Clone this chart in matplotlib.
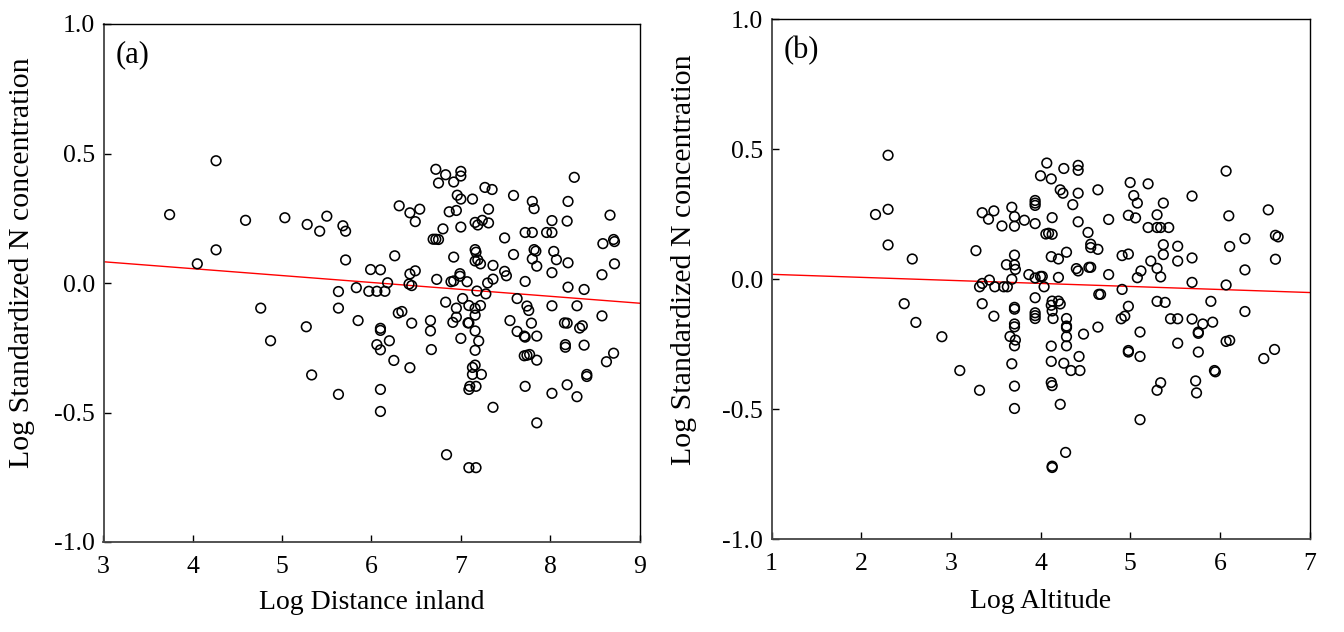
import numpy as np
import matplotlib
matplotlib.use("Agg")
from matplotlib import pyplot as plt

# panel (a): log distance inland vs log standardized N
dist_x = [3.74, 4.26, 4.05, 4.26, 4.59, 5.03, 5.28, 5.50, 5.42, 5.68, 5.71, 5.71, 5.83, 5.63,
          4.76, 5.63, 5.85, 5.27, 4.87, 5.33, 5.63,
          6.72, 6.83, 7.00, 7.00, 6.75, 6.92, 7.27, 7.35, 8.27, 7.59, 6.96, 7.00, 7.13, 7.80,
          8.20, 6.31, 6.43, 6.54, 6.87, 6.95, 7.31, 7.82, 6.49, 7.16, 7.19, 7.24, 7.31, 8.02,
          8.19, 8.67, 6.80, 7.00, 6.69, 6.72, 6.75, 7.49, 7.72, 7.80, 7.96, 8.02, 8.71, 8.72,
          8.59, 7.16, 7.17, 7.82, 7.84, 8.04, 6.26, 6.92, 7.59, 7.80, 8.07, 8.20, 7.16, 7.19,
          7.22, 7.36, 7.85, 8.72, 5.99, 6.10, 6.49, 6.43, 7.49, 7.51, 8.02, 6.99, 6.99, 8.58,
          6.18, 6.73, 6.89, 6.92, 7.07, 7.30, 7.36, 7.72, 6.42, 6.45, 5.97, 6.06, 6.15, 7.18,
          7.28, 8.20, 8.38, 7.63, 7.02, 6.83, 6.95, 7.09, 7.16, 7.22, 7.16, 6.95, 7.74, 7.76,
          8.02, 8.30, 8.58, 6.30, 6.34, 6.45, 6.66, 6.91, 7.08, 7.09, 7.55, 7.79, 8.16, 8.19,
          8.33, 8.36, 6.10, 6.10, 6.66, 7.16, 7.63, 7.71, 7.72, 7.85, 6.06, 6.10, 6.20, 7.00,
          7.20, 6.67, 7.16, 8.17, 8.17, 8.38, 8.71, 8.63, 6.25, 6.43, 7.71, 7.74, 7.77, 7.85,
          7.16, 7.13, 7.13, 7.23, 8.41, 8.41, 6.10, 7.10, 7.09, 7.17, 7.72, 8.02, 8.19, 8.30,
          6.10, 7.36, 7.85, 6.84, 7.09, 7.17]
dist_y = [0.264, 0.472, 0.074, 0.128, 0.242, 0.252, 0.226, 0.258, 0.200, 0.221, 0.200, 0.089,
          -0.018, -0.033, -0.097, -0.097, -0.145, -0.169, -0.223, -0.355, -0.430,
          0.439, 0.418, 0.431, 0.413, 0.386, 0.390, 0.369, 0.361, 0.408, 0.338, 0.339, 0.324,
          0.324, 0.315, 0.315, 0.298, 0.271, 0.285, 0.275, 0.280, 0.285, 0.287, 0.237, 0.234,
          0.224, 0.242, 0.232, 0.241, 0.239, 0.262, 0.209, 0.216, 0.169, 0.169, 0.168, 0.174,
          0.195, 0.195, 0.195, 0.195, 0.168, 0.160, 0.152, 0.129, 0.119, 0.129, 0.123, 0.122,
          0.105, 0.100, 0.110, 0.093, 0.090, 0.078, 0.085, 0.089, 0.074, 0.068, 0.065, 0.074,
          0.052, 0.051, 0.047, 0.035, 0.045, 0.028, 0.040, 0.036, 0.026, 0.032, 0.001, 0.014,
          0.005, 0.008, 0.005, 0.000, 0.015, 0.006, -0.004, -0.010, -0.032, -0.032, -0.032,
          -0.031, -0.042, -0.016, -0.025, -0.060, -0.060, -0.074, -0.097, -0.087, -0.098,
          -0.087, -0.124, -0.132, -0.089, -0.106, -0.088, -0.088, -0.127, -0.116, -0.110,
          -0.155, -0.145, -0.152, -0.154, -0.154, -0.145, -0.155, -0.154, -0.155, -0.174,
          -0.165, -0.175, -0.183, -0.185, -0.185, -0.187, -0.205, -0.209, -0.205, -0.238,
          -0.258, -0.223, -0.214, -0.224, -0.257, -0.260, -0.238, -0.248, -0.240, -0.271,
          -0.304, -0.299, -0.327, -0.281, -0.279, -0.276, -0.298, -0.317, -0.326, -0.353,
          -0.353, -0.353, -0.361, -0.411, -0.399, -0.411, -0.399, -0.399, -0.426, -0.393,
          -0.439, -0.496, -0.480, -0.540, -0.663, -0.713, -0.713]

# panel (b): log altitude vs log standardized N
alt_x = [2.30, 2.16, 2.30, 2.30, 2.57, 2.48, 2.61, 2.90, 3.10, 3.32, 3.28, 3.35, 3.42, 3.48,
         3.57, 3.68, 3.71, 3.71, 3.82, 3.94, 3.94, 3.94, 3.94, 4.00, 4.07, 3.71, 3.62, 3.71,
         3.72, 3.87, 3.94, 4.00, 4.02, 3.68, 3.43, 3.35, 3.32, 3.49, 3.59, 3.63, 4.04, 3.94,
         3.35, 3.71, 3.71, 3.48, 3.94, 3.94, 3.94, 3.71, 3.71, 3.66, 3.72, 3.71, 3.68, 3.71,
         3.71,
         4.12, 4.26, 4.42, 4.42, 6.07,
         5.00, 5.20, 4.22, 4.25, 4.42, 4.64, 5.04, 5.08, 5.37, 5.69, 6.54, 4.36, 4.13, 4.42,
         4.76, 4.98, 5.06, 5.30, 6.10, 5.20, 5.30, 5.34, 5.43, 4.53, 4.06, 4.09, 4.13, 4.56,
         4.56, 4.64, 5.37, 5.53, 6.28, 6.62, 6.65, 6.11, 4.29, 4.12, 4.20, 4.91, 4.98, 5.37,
         5.69, 6.62, 5.23, 5.53, 4.40, 4.42, 4.54, 4.56, 5.12, 5.30, 6.28, 4.20, 4.76, 5.08,
         5.34, 5.69, 6.07, 4.91, 4.65, 4.67, 5.30, 5.39, 5.90, 4.13, 4.20, 4.22, 4.12, 4.13,
         4.98, 6.28, 4.14, 4.29, 4.90, 4.94, 5.45, 5.53, 5.69, 5.81, 5.92, 4.29, 4.29, 4.64,
         4.48, 5.11, 5.76, 5.76, 4.29, 4.29, 4.12, 5.53, 6.07, 6.11, 6.61, 6.49, 4.98, 4.98,
         5.11, 5.76, 4.12, 4.26, 4.34, 4.44, 4.43, 5.94, 5.95, 4.12, 4.13, 5.34, 5.30, 5.73,
         5.74, 4.22, 5.11, 4.28, 4.13, 4.13]
alt_y = [0.476, 0.248, 0.268, 0.131, 0.077, -0.095, -0.167, -0.222, -0.352, -0.428, 0.109,
         0.255, 0.230, 0.262, 0.204, 0.276, 0.240, 0.203, 0.226, 0.302, 0.292, 0.283, 0.213,
         0.397, 0.446, 0.092, 0.055, 0.054, 0.037, 0.017, 0.004, 0.010, 0.010, -0.001, -0.004,
         -0.017, -0.030, -0.030, -0.030, -0.030, -0.030, -0.072, -0.095, -0.109, -0.116,
         -0.143, -0.130, -0.141, -0.152, -0.173, -0.184, -0.221, -0.235, -0.257, -0.326,
         -0.412, -0.498,
         0.385, 0.425, 0.437, 0.418, 0.415,
         0.371, 0.366, 0.343, 0.330, 0.330, 0.343, 0.321, 0.292, 0.292, 0.319, 0.266, 0.286,
         0.236, 0.220, 0.229, 0.245, 0.235, 0.247, 0.243, 0.198, 0.198, 0.198, 0.198, 0.179,
         0.173, 0.176, 0.172, 0.134, 0.121, 0.114, 0.132, 0.126, 0.155, 0.168, 0.162, 0.125,
         0.103, 0.086, 0.077, 0.090, 0.096, 0.094, 0.081, 0.076, 0.069, 0.069, 0.040, 0.031,
         0.045, 0.045, 0.031, 0.041, 0.035, 0.006, 0.017, 0.005, 0.008, -0.013, -0.023,
         -0.040, -0.059, -0.059, -0.086, -0.090, -0.086, -0.085, -0.085, -0.096, -0.101,
         -0.123, -0.105, -0.125, -0.152, -0.152, -0.153, -0.143, -0.153, -0.153, -0.154,
         -0.173, -0.166, -0.181, -0.187, -0.185, -0.212, -0.204, -0.204, -0.209, -0.222,
         -0.257, -0.258, -0.247, -0.240, -0.236, -0.271, -0.306, -0.275, -0.281, -0.298,
         -0.281, -0.317, -0.324, -0.352, -0.352, -0.298, -0.352, -0.357, -0.398, -0.410,
         -0.399, -0.428, -0.392, -0.438, -0.482, -0.541, -0.667, -0.720, -0.725]

# fitted lines: value at left and right end of the x range
fit_a = [0.082, -0.078]
fit_b = [0.018, -0.052]

xlim_a = (3, 9)
xlim_b = (1, 7)
y_ticks = [-1.0, -0.5, 0.0, 0.5, 1.0]
y_label = "Log Standardized N concentration"

plt.rcParams["font.family"] = ["Liberation Serif", "DejaVu Serif"]


def draw_panel(ax, x, y, fit, xlim, xlabel, tag):
    """
    Draws one scatter panel with its regression line.
    """
    ax.scatter(x, y, s=48, facecolors="none", edgecolors="black", linewidths=1.15, zorder=3)
    ax.plot(xlim, fit, color="red", lw=1.0, zorder=2)

    ax.set_xlim(*xlim)
    ax.set_ylim(-1.0, 1.0)
    ax.set_xticks(range(xlim[0], xlim[1] + 1))
    ax.set_yticks(y_ticks)
    ax.set_yticklabels([f"{v:.1f}" for v in y_ticks])
    ax.tick_params(direction="in", length=5, width=1.0, labelsize=18.5,
                   top=False, right=False)
    ax.tick_params(axis="x", pad=10)
    ax.tick_params(axis="y", pad=6)

    for side in ("left", "bottom"):
        ax.spines[side].set_color("#444444")
        ax.spines[side].set_linewidth(1.3)
    for side in ("top", "right"):
        ax.spines[side].set_linewidth(1.0)

    ax.set_xlabel(xlabel, fontsize=20)
    ax.set_ylabel(y_label, fontsize=21.5)
    ax.text(0.022, 0.94, tag, transform=ax.transAxes, fontsize=22, va="center", ha="left")


fig = plt.figure(figsize=(13.44, 6.32), dpi=100)
ax_a = fig.add_axes([103.5 / 1344, 1 - 542 / 632, 536 / 1344, 518 / 632])
ax_b = fig.add_axes([771.5 / 1344, 1 - 539 / 632, 538 / 1344, 520 / 632])

draw_panel(ax_a, dist_x, dist_y, fit_a, xlim_a, "Log Distance inland", "(a)")
draw_panel(ax_b, alt_x, alt_y, fit_b, xlim_b, "Log Altitude", "(b)")

ax_a.yaxis.set_label_coords(-0.128, 0.54)
ax_b.yaxis.set_label_coords(-0.138, 0.538)
ax_a.xaxis.set_label_coords(0.5, -0.092)
ax_b.xaxis.set_label_coords(0.5, -0.097)

fig.savefig("out.png", dpi=100)
